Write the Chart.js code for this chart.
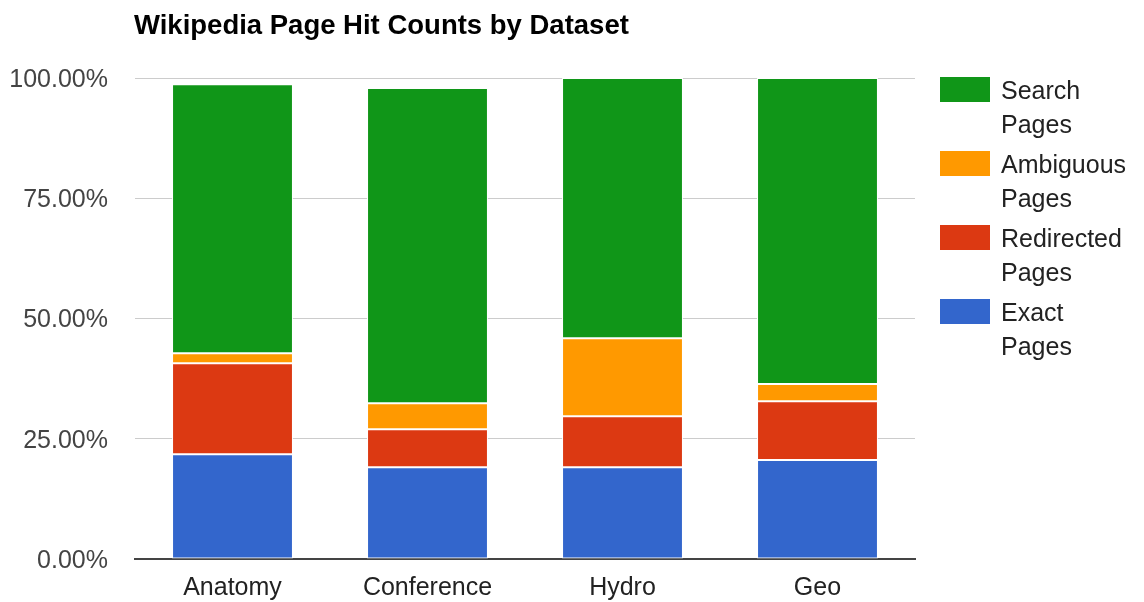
<!DOCTYPE html>
<html>
<head>
<meta charset="utf-8">
<script src="https://cdn.jsdelivr.net/npm/chart.js@4.4.1/dist/chart.umd.min.js"></script>
<style>
  body { margin: 0; background: #fff; font-family: "Liberation Sans", Arial, sans-serif; }
  #wrap { position: relative; width: 1144px; height: 602px; }
  #title { position: absolute; left: 134px; top: 11px; font-size: 27.5px; line-height: 28px; font-weight: bold; color: #000; }
  .leg { position: absolute; left: 940px; }
  .leg .box { position: absolute; left: 0; top: 4px; width: 50px; height: 25px; }
  .leg .txt { position: absolute; left: 61px; top: 0; font-size: 25px; line-height: 34px; color: #222; white-space: nowrap; }
</style>
</head>
<body>
<div id="wrap">
  <canvas id="chart" width="1144" height="602"></canvas>
  <div id="title">Wikipedia Page Hit Counts by Dataset</div>
  <div id="legend"></div>
</div>
<script>
const categories = ['Anatomy', 'Conference', 'Hydro', 'Geo'];
const exactPages = [21.8, 19.1, 19.1, 20.6];
const redirectedPages = [18.9, 7.9, 10.6, 12.2];
const ambiguousPages = [2.1, 5.4, 16.2, 3.6];
const searchPages = [55.9, 65.5, 54.1, 63.6];
const yTicks = [0, 25, 50, 75, 100];

const series = [
  { name: ['Exact', 'Pages'], data: exactPages, color: '#3366cc' },
  { name: ['Redirected', 'Pages'], data: redirectedPages, color: '#dc3912' },
  { name: ['Ambiguous', 'Pages'], data: ambiguousPages, color: '#ff9900' },
  { name: ['Search', 'Pages'], data: searchPages, color: '#109618' }
];

Chart.defaults.font.family = '"Liberation Sans", Arial, sans-serif';
Chart.defaults.font.size = 25;
Chart.defaults.color = '#444';

const ctx = document.getElementById('chart').getContext('2d');
new Chart(ctx, {
  type: 'bar',
  data: {
    labels: categories,
    datasets: series.map(s => ({
      label: s.name.join(' '),
      data: s.data,
      backgroundColor: s.color,
      borderColor: '#ffffff',
      borderWidth: 1,
      borderSkipped: false,
      barPercentage: 1,
      categoryPercentage: 0.62
    }))
  },
  options: {
    responsive: false,
    animation: false,
    layout: { padding: { left: 0, right: 229, top: 78, bottom: 0 } },
    plugins: {
      legend: { display: false },
      tooltip: { enabled: false }
    },
    scales: {
      x: {
        stacked: true,
        grid: { display: false, drawTicks: false },
        border: { color: '#444', width: 2 },
        ticks: { padding: 14, color: '#222' },
        afterFit: scale => { scale.height = 43; }
      },
      y: {
        stacked: true,
        min: 0,
        max: 100,
        afterBuildTicks: scale => { scale.ticks = yTicks.map(v => ({ value: v })); },
        grid: {
          drawTicks: false,
          color: c => c.tick.value === 0 ? 'rgba(0,0,0,0)' : '#cccccc'
        },
        border: { display: false },
        ticks: {
          padding: 27,
          labelOffset: 2,
          color: '#444',
          callback: v => v.toFixed(2) + '%'
        },
        afterFit: scale => { scale.width = 135; }
      }
    }
  }
});

// legenda à direita, na ordem do topo para a base
const legend = document.getElementById('legend');
series.slice().reverse().forEach((s, i) => {
  const item = document.createElement('div');
  item.className = 'leg';
  item.style.top = (73 + i * 74) + 'px';
  item.innerHTML = '<div class="box" style="background:' + s.color + '"></div>' +
    '<div class="txt">' + s.name.join('<br>') + '</div>';
  legend.appendChild(item);
});
</script>
</body>
</html>
